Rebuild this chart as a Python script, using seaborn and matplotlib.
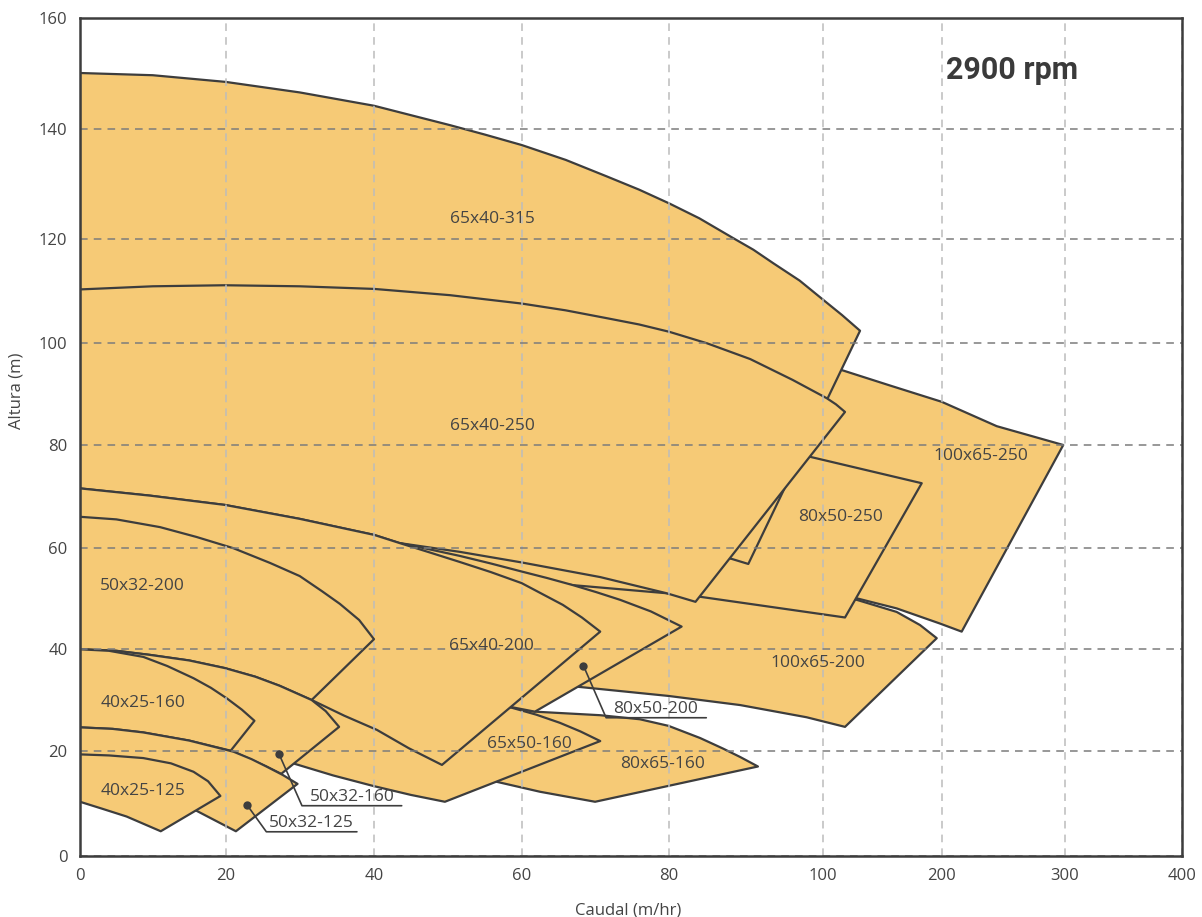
import numpy as np
import matplotlib
matplotlib.use("Agg")
import matplotlib.pyplot as plt
import seaborn as sns

# axis ticks: Caudal (m/hr) and Altura (m)
caudal_ticks = [0, 20, 40, 60, 80, 100, 200, 300, 400]
altura_ticks = [0, 20, 40, 60, 80, 100, 120, 140, 160]

# pump regions as (caudal, altura) outlines, listed from back to front
q_100x65_250 = [94.5, 116.4, 156.4, 199.7, 244.5, 298.6, 216.0, 198.3, 162.0, 128.5, 97.1]
h_100x65_250 = [96.7, 94.7, 91.7, 88.5, 83.7, 80.0, 43.5, 45.1, 48.1, 50.1, 52.7]

q_100x65_200 = [67.0, 79.75, 91.9, 128.5, 162.0, 181.6, 195.6, 118.7, 97.9, 89.3, 80.0, 67.7, 63.9]
h_100x65_200 = [53.7, 52.1, 50.8, 49.8, 47.4, 44.8, 42.2, 24.7, 26.6, 29.0, 30.8, 32.6, 33.6]

q_80x50_250 = [84.1, 98.4, 183.0, 118.7, 84.1, 79.75, 67.0, 54.4, 46.2]
h_80x50_250 = [81.0, 77.7, 72.6, 46.3, 50.4, 51.1, 52.7, 55.3, 59.7]

q_65x40_315 = [0, 10, 20, 30, 40, 45, 50.3, 55, 60, 66, 71.6, 76, 80.1, 84, 88.4, 91, 93.6, 97,
               100.5, 116.2, 131.3, 90.35, 88.2, 70.7, 43.5, 0]
h_65x40_315 = [150, 149.6, 148.4, 146.5, 144.1, 142.4, 140.6, 138.9, 137.0, 134.3, 131.3, 128.9,
               126.4, 123.7, 120.1, 117.9, 115.3, 112.0, 108.3, 105.4, 102.4, 56.9, 57.9, 62.6, 68.4, 75.2]

q_65x40_250 = [0, 10, 19.9, 30, 40, 50.3, 60, 66, 71.6, 76, 80.1, 85.0, 90.6, 96.1, 103.4, 111.1,
               118.7, 83.5, 79.75, 70.7, 60, 51.6, 43.5, 40, 30, 19.9, 9.6, 0]
h_65x40_250 = [110.3, 110.9, 111.1, 110.9, 110.4, 109.2, 107.6, 106.3, 104.8, 103.6, 102.2, 100.0,
               96.9, 92.8, 89.2, 88.0, 86.5, 49.4, 51.1, 54.3, 57.2, 59.3, 61.0, 62.6, 65.7, 68.4, 70.2, 71.6]

q_80x65_160 = [53.0, 58.6, 61.8, 70.7, 76.1, 80.0, 84.1, 87.1, 89.3, 91.6, 70.0, 62.5, 56.6, 53.0]
h_80x65_160 = [32.0, 28.6, 27.7, 27.0, 26.2, 24.9, 22.5, 20.4, 18.8, 17.0, 10.3, 12.2, 14.1, 15.2]

q_65x50_160 = [30.0, 43.5, 58.6, 62, 65.2, 68, 70.7, 49.6, 45, 39.9, 34.5, 29.1, 27.3]
h_65x50_160 = [32.0, 31.6, 28.5, 27.1, 25.5, 23.8, 21.9, 10.3, 11.6, 13.3, 15.3, 17.6, 17.5]

q_80x50_200 = [43.5, 47.5, 51.6, 55.8, 60, 63.5, 67.0, 70.2, 73.4, 77.6, 81.7, 61.8, 58.6, 50.3]
h_80x50_200 = [61.0, 59.8, 58.5, 57.0, 55.4, 54.1, 52.7, 51.3, 49.8, 47.5, 44.5, 27.7, 28.6, 37.9]

q_65x40_200 = [0, 9.6, 19.9, 30, 40, 43.5, 47.5, 51.6, 55.8, 60, 65.6, 68.2, 70.7, 49.2, 44.7,
               40.4, 36.0, 31.6, 27.3, 24, 19.9, 15, 9.6, 5, 0]
h_65x40_200 = [71.6, 70.2, 68.4, 65.7, 62.6, 61.0, 59.2, 57.3, 55.3, 53.1, 48.8, 46.3, 43.5, 17.3, 20.5,
               24.1, 26.9, 30.0, 32.8, 34.6, 36.3, 37.8, 38.9, 39.7, 40.0]

q_50x32_200 = [0, 5, 11.0, 16, 21.1, 26, 30.0, 33, 35.4, 38, 40, 31.6, 27.3, 24, 19.9, 15, 9.6, 5, 0]
h_50x32_200 = [66.1, 65.6, 64.1, 62.2, 60.0, 57.1, 54.5, 51.5, 49.0, 45.8, 42.0, 30.0, 32.8, 34.6,
               36.3, 37.8, 38.9, 39.7, 40.0]

q_50x32_160 = [0, 5, 9.6, 15, 19.9, 24, 27.3, 31.6, 33.5, 35.3, 27.5, 25.5, 21.1, 15, 8.7, 4.5, 0]
h_50x32_160 = [40.0, 39.7, 38.9, 37.8, 36.3, 34.6, 32.8, 30.0, 27.8, 24.7, 15.6, 17.0, 19.8, 22.0,
               23.6, 24.3, 24.6]

q_40x25_160 = [0, 4, 8.7, 12, 15.6, 18, 20.2, 22.2, 23.9, 20.7, 15, 8.7, 4.5, 0]
h_40x25_160 = [40.0, 39.7, 38.5, 36.7, 34.3, 32.4, 30.3, 28.1, 25.9, 20.0, 22.0, 23.6, 24.3, 24.6]

q_50x32_125 = [0, 4.5, 8.7, 15, 21.1, 23.5, 25.5, 27.7, 29.7, 21.4, 16.0, 13.7, 0]
h_50x32_125 = [24.6, 24.3, 23.6, 22.0, 19.8, 18.4, 17.0, 15.4, 13.7, 4.7, 8.6, 9.7, 18.2]

q_40x25_125 = [0, 4, 8.7, 12.5, 15.6, 17.6, 19.3, 11.1, 6.4, 3, 0]
h_40x25_125 = [19.3, 19.1, 18.6, 17.6, 16.0, 14.2, 11.4, 4.7, 7.5, 9.0, 10.3]

# labels written inside the regions (centre caudal, baseline altura)
label_names = ["65x40-315", "65x40-250", "50x32-200", "40x25-160", "40x25-125",
               "65x40-200", "65x50-160", "80x65-160", "100x65-200", "80x50-250", "100x65-250"]
label_q = [56.0, 56.0, 8.6, 8.6, 8.6, 55.9, 61.1, 79.2, 99.4, 114.8, 231.3]
label_h = [122.8, 83.0, 51.7, 28.7, 11.6, 39.9, 20.5, 16.7, 36.6, 65.3, 77.1]

# labels with a pointer: dot, elbow, end of underline
callout_names = ["50x32-160", "50x32-125", "80x50-200"]
callout_dot_q = [27.2, 22.9, 68.4]
callout_dot_h = [19.4, 9.7, 36.8]
callout_elbow_q = [30.3, 25.5, 71.5]
callout_elbow_h = [9.55, 4.6, 26.5]
callout_end_q = [43.75, 37.7, 84.9]

regions = [
    (q_100x65_250, h_100x65_250), (q_100x65_200, h_100x65_200),
    (q_80x50_250, h_80x50_250), (q_65x40_315, h_65x40_315),
    (q_65x40_250, h_65x40_250), (q_80x65_160, h_80x65_160),
    (q_65x50_160, h_65x50_160), (q_80x50_200, h_80x50_200),
    (q_65x40_200, h_65x40_200), (q_50x32_200, h_50x32_200),
    (q_50x32_160, h_50x32_160), (q_40x25_160, h_40x25_160),
    (q_50x32_125, h_50x32_125), (q_40x25_125, h_40x25_125),
]

sns.set_theme(style="white")
plt.rcParams["font.family"] = ["Open Sans", "DejaVu Sans"]

FILL = "#F6CA76"
EDGE = "#3d3d3d"
TEXT = "#444444"

# the chart spaces its ticks unevenly, so map ticks to screen spacing
x_screen = [0, 145.5, 294, 441.7, 588.5, 742.7, 862, 985, 1102]
y_screen = [0, 105.3, 206.7, 307.7, 411, 512.7, 617.3, 727.5, 838.5]

fig = plt.figure(figsize=(12.02, 9.17), dpi=100)
ax = fig.add_axes([80 / 1202, 61 / 917, 1102 / 1202, 838.5 / 917])

ax.set_xscale("function", functions=(lambda v: np.interp(v, caudal_ticks, x_screen),
                                     lambda v: np.interp(v, x_screen, caudal_ticks)))
ax.set_yscale("function", functions=(lambda v: np.interp(v, altura_ticks, y_screen),
                                     lambda v: np.interp(v, y_screen, altura_ticks)))

for q, h in regions:
    ax.fill(q, h, facecolor=FILL, edgecolor=EDGE, linewidth=1.6, joinstyle="round")

for name, q, h in zip(label_names, label_q, label_h):
    ax.text(q, h, name, ha="center", va="baseline", fontsize=12.5, color=TEXT, zorder=4)

for i, name in enumerate(callout_names):
    ax.plot([callout_dot_q[i], callout_elbow_q[i], callout_end_q[i]],
            [callout_dot_h[i], callout_elbow_h[i], callout_elbow_h[i]],
            color=EDGE, linewidth=1.2, zorder=4)
    ax.text((callout_elbow_q[i] + callout_end_q[i]) / 2, callout_elbow_h[i] + 0.9, name,
            ha="center", va="baseline", fontsize=12.5, color=TEXT, zorder=4)
sns.scatterplot(x=callout_dot_q, y=callout_dot_h, color=EDGE, s=36, edgecolor=EDGE,
                linewidth=0, zorder=5, ax=ax, legend=False)

ax.set_xlim(0, 400)
ax.set_ylim(0, 160)
ax.set_xticks(caudal_ticks)
ax.set_yticks(altura_ticks)
ax.set_xticklabels([str(t) for t in caudal_ticks])
ax.set_yticklabels([str(t) for t in altura_ticks])
ax.tick_params(length=0, labelsize=12, labelcolor=TEXT, pad=9)

ax.set_axisbelow(False)
ax.xaxis.grid(True, color="#bcbcbc", linestyle=(0, (5, 4)), linewidth=1.1)
ax.yaxis.grid(True, color="#7c7c7c", linestyle=(0, (5, 4)), linewidth=1.1)

for side in ["left", "right", "top", "bottom"]:
    ax.spines[side].set_color(EDGE)
    ax.spines[side].set_linewidth(1.8)
    ax.spines[side].set_zorder(6)

ax.set_xlabel("Caudal (m/hr)", fontsize=12, color=TEXT)
ax.set_ylabel("Altura (m)", fontsize=12, color=TEXT)
ax.xaxis.set_label_coords(0.497, -0.055)
ax.yaxis.set_label_coords(-0.05, 0.555)

ax.text(0.846, 0.937, "2900 rpm", transform=ax.transAxes, ha="center", va="center",
        fontsize=22, fontweight="bold", color="#3a3a3a", family=["Roboto", "DejaVu Sans"])

fig.savefig("out.png", dpi=100)
